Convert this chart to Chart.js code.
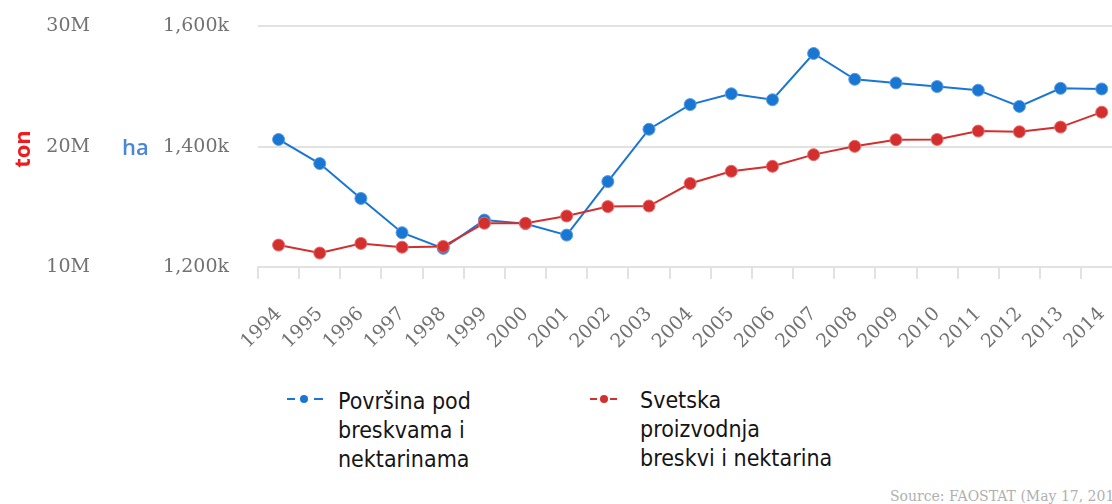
<!DOCTYPE html>
<html>
<head>
<meta charset="utf-8">
<script src="https://cdn.jsdelivr.net/npm/chart.js@4/dist/chart.umd.min.js"></script>
<style>
  html, body { margin: 0; padding: 0; background: #fff; overflow: hidden; width: 1112px; height: 504px; }
  #wrap { position: absolute; left: 0; top: -14px; width: 1142px; height: 374px; }
  .unit { position: absolute; font-family: "Open Sans", "Noto Sans", sans-serif; font-size: 22px; white-space: nowrap; }
  #ton { left: 2px; top: 134px; color: #ee1c1c; font-weight: 700; transform: rotate(-90deg); transform-origin: 50% 50%; }
  #ha { left: 122px; top: 131px; color: #4a86d8; font-weight: 600; }
  .legend { position: absolute; font-family: "Liberation Sans Narrow", "DejaVu Sans Condensed", sans-serif; font-size: 23px; line-height: 29px; color: #151515; }
  .icon { position: absolute; height: 8px; }
  .icon i { position: absolute; top: 3px; height: 2px; }
  .icon b { position: absolute; top: 0; width: 8px; height: 8px; border-radius: 50%; }
  #src { position: absolute; left: 890px; top: 488px; font-family: "DejaVu Serif", serif; font-size: 14px; color: #b0b0b0; white-space: nowrap; }
</style>
</head>
<body>
<div id="wrap"><canvas id="chart"></canvas></div>
<div class="unit" id="ton">ton</div>
<div class="unit" id="ha">ha</div>

<div class="icon" style="left:287px; top:395px; width:36px;">
  <i style="left:0; width:8px; background:#1976d2"></i>
  <b style="left:13px; background:#1976d2"></b>
  <i style="left:27px; width:9px; background:#1976d2"></i>
</div>
<div class="legend" style="left:338px; top:387px;">Površina pod<br>breskvama i<br>nektarinama</div>

<div class="icon" style="left:590px; top:395px; width:27px;">
  <i style="left:0; width:7px; background:#d32f2f"></i>
  <b style="left:10px; background:#d32f2f"></b>
  <i style="left:20px; width:7px; background:#d32f2f"></i>
</div>
<div class="legend" style="left:640px; top:386px;">Svetska<br>proizvodnja<br>breskvi i nektarina</div>

<div id="src">Source: FAOSTAT (May 17, 2017)</div>

<script>
const years = ["1994", "1995", "1996", "1997", "1998", "1999", "2000", "2001", "2002", "2003",
  "2004", "2005", "2006", "2007", "2008", "2009", "2010", "2011", "2012", "2013", "2014"];

// area under peaches and nectarines, thousand ha
const areaHa = [1412, 1372, 1314, 1257, 1231, 1278, 1272, 1253, 1342, 1429,
  1470, 1488, 1478, 1555, 1512, 1506, 1500, 1494, 1467, 1497, 1496];

// world production, million tonnes
const prodTon = [11.82, 11.16, 11.96, 11.65, 11.71, 13.64, 13.64, 14.24, 15.02, 15.07,
  16.94, 17.96, 18.37, 19.34, 20.03, 20.58, 20.6, 21.3, 21.24, 21.63, 22.87];

const haTicks = [1200, 1400, 1600];
const tonTicks = [10, 20, 30];

const blue = "#1976d2";
const red = "#d32f2f";
const tickFont = { family: "DejaVu Serif", size: 19 };
const tickColor = "#727272";
const gridColor = "#e2e2e2";

new Chart(document.getElementById("chart"), {
  type: "line",
  data: {
    labels: years,
    datasets: [
      {
        label: "Svetska proizvodnja breskvi i nektarina",
        data: prodTon,
        yAxisID: "ton",
        borderColor: red,
        backgroundColor: red,
        pointBackgroundColor: red,
        pointBorderColor: "#e86a6a",
        pointBorderWidth: 1,
        pointRadius: 6,
        borderWidth: 2,
        tension: 0,
      },
      {
        label: "Površina pod breskvama i nektarinama",
        data: areaHa,
        yAxisID: "ha",
        borderColor: blue,
        backgroundColor: blue,
        pointBackgroundColor: blue,
        pointBorderColor: "#5a9be0",
        pointBorderWidth: 1,
        pointRadius: 6,
        borderWidth: 2,
        tension: 0,
      },
    ],
  },
  options: {
    animation: false,
    responsive: true,
    maintainAspectRatio: false,
    layout: { padding: { top: 12, right: 0, bottom: 0, left: 0 } },
    plugins: { legend: { display: false }, tooltip: { enabled: false } },
    scales: {
      x: {
        offset: true,
        grid: {
          display: true,
          drawOnChartArea: false,
          drawTicks: true,
          tickLength: 12,
          offset: true,
          color: gridColor,
          lineWidth: 2,
        },
        border: { display: true, color: gridColor, width: 2 },
        ticks: {
          autoSkip: false,
          minRotation: 45,
          maxRotation: 45,
          padding: 24,
          color: tickColor,
          font: tickFont,
        },
        afterFit: function (scale) {
          scale.height = 93;
        },
      },
      ha: {
        type: "linear",
        position: "left",
        weight: 0,
        min: haTicks[0],
        max: haTicks[haTicks.length - 1],
        afterBuildTicks: function (scale) {
          scale.ticks = haTicks.map((v) => ({ value: v }));
        },
        ticks: {
          padding: 29,
          color: tickColor,
          font: tickFont,
          callback: (v) => v.toLocaleString("en-US") + "k",
        },
        grid: { color: gridColor, lineWidth: 2, drawTicks: false },
        border: { display: false },
        afterFit: function (scale) {
          scale.width = 150;
        },
      },
      ton: {
        type: "linear",
        position: "left",
        weight: 1,
        min: tonTicks[0],
        max: tonTicks[tonTicks.length - 1],
        afterBuildTicks: function (scale) {
          scale.ticks = tonTicks.map((v) => ({ value: v }));
        },
        ticks: {
          padding: 10,
          color: tickColor,
          font: tickFont,
          callback: (v) => v + "M",
        },
        grid: { display: false },
        border: { display: false },
        afterFit: function (scale) {
          scale.width = 108;
        },
      },
    },
  },
});
</script>
</body>
</html>
